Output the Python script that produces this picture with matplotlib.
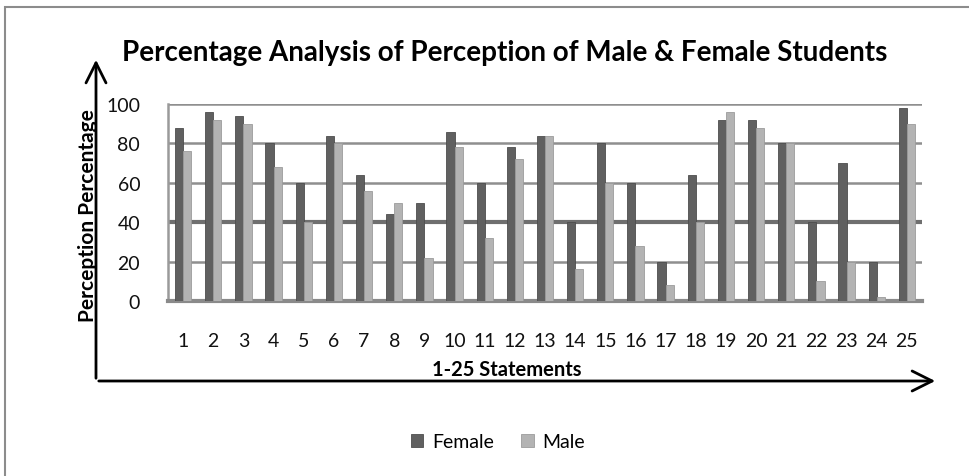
import matplotlib
matplotlib.use("Agg")
import matplotlib.pyplot as plt
import numpy as np
from matplotlib.patches import FancyArrowPatch, Rectangle

statements = ["1", "2", "3", "4", "5", "6", "7", "8", "9", "10", "11", "12", "13",
              "14", "15", "16", "17", "18", "19", "20", "21", "22", "23", "24", "25"]
female = [88, 96, 94, 80, 60, 84, 64, 44, 50, 86, 60, 78, 84,
          40, 80, 60, 20, 64, 92, 92, 80, 40, 70, 20, 98]
male = [76, 92, 90, 68, 40, 80, 56, 50, 22, 78, 32, 72, 84,
        16, 60, 28, 8, 40, 96, 88, 80, 10, 20, 2, 90]

plt.rcParams["font.family"] = ["Lato", "DejaVu Sans"]

W, H = 970, 477
fig = plt.figure(figsize=(W / 100, H / 100), dpi=100)
ax = fig.add_axes([168 / W, 1 - 302 / H, 754 / W, 197 / H])

x = np.arange(len(statements))
bw = 0.27
ax.bar(x - bw / 2, female, bw, color="#606060", edgecolor="#4d4d4d", linewidth=0.6,
       label="Female", zorder=3)
ax.bar(x + bw / 2, male, bw, color="#b3b3b3", edgecolor="#9c9c9c", linewidth=0.6,
       label="Male", zorder=3)

ax.set_xlim(-0.5, len(statements) - 0.5)
ax.set_ylim(0, 100)
ax.set_yticks([0, 20, 40, 60, 80, 100])
ax.set_xticks(x)
ax.set_xticklabels(statements)
ax.tick_params(axis="both", length=0, labelsize=14, colors="#111111")
ax.tick_params(axis="x", pad=22)
ax.tick_params(axis="y", pad=20)

ax.grid(axis="y", color="#8f8f8f", linewidth=1.8, zorder=0)
grid_lines = ax.yaxis.get_gridlines()
grid_lines[2].set_color("#6f6f6f")
grid_lines[2].set_linewidth(3)

for s in ["top", "right"]:
    ax.spines[s].set_visible(False)
ax.spines["left"].set_color("#9a9a9a")
ax.spines["left"].set_linewidth(1.8)
ax.spines["bottom"].set_color("#8a8a8a")
ax.spines["bottom"].set_linewidth(3)

# outer frame of the chart area
fig.add_artist(Rectangle((5 / W, -0.1), 1.2, 1 - 8 / H + 0.1, transform=fig.transFigure,
                         fill=False, edgecolor="#8c8c8c", linewidth=1.5))

fig.text(505 / W, 1 - 53 / H, "Percentage Analysis of Perception of Male & Female Students",
         ha="center", va="center", fontsize=20, fontweight="bold")
fig.text(88 / W, 1 - 216 / H, "Perception Percentage", rotation=90,
         ha="center", va="center", fontsize=15, fontweight="bold")
fig.text(507 / W, 1 - 370 / H, "1-25 Statements",
         ha="center", va="center", fontsize=14.5, fontweight="bold")

# hand-drawn axis arrows
for start, end in [((96, H - 382), (96, H - 58)), ((96, H - 382), (938, H - 382))]:
    fig.add_artist(FancyArrowPatch(start, end, transform=None,
                                   arrowstyle="->,head_length=0.9,head_width=0.45",
                                   mutation_scale=16, color="black", linewidth=2))

fig.legend(loc="center", bbox_to_anchor=(498 / W, 1 - 443 / H), ncol=2, frameon=False,
           fontsize=14, handlelength=0.65, handleheight=0.65, handletextpad=0.45,
           columnspacing=1.4)

fig.savefig("out.png", dpi=100)
